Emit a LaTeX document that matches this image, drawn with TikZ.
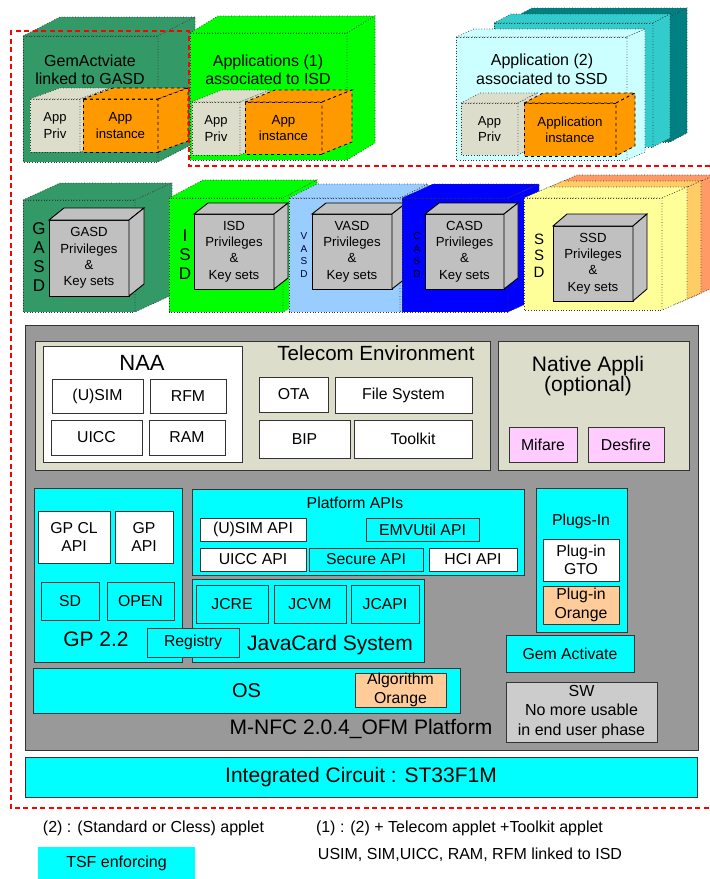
\documentclass[tikz,border=0pt]{standalone}
\usepackage{fontspec}
\setmainfont{Liberation Sans}
\definecolor{gasdgreen}{HTML}{339966}
\definecolor{brgreen}{HTML}{00FF00}
\definecolor{beige}{HTML}{DDDDCC}
\definecolor{apporange}{HTML}{FF9900}
\definecolor{lcyan}{HTML}{CCFFFF}
\definecolor{mteal}{HTML}{33CCCC}
\definecolor{dteal}{HTML}{008080}
\definecolor{lblue}{HTML}{99CCFF}
\definecolor{dblue}{HTML}{0000FF}
\definecolor{lyellow}{HTML}{FFFF99}
\definecolor{lorange}{HTML}{FFCC66}
\definecolor{dorange}{HTML}{FF9966}
\definecolor{cubegray}{HTML}{C0C0C0}
\definecolor{platgray}{HTML}{999999}
\definecolor{tcyan}{HTML}{00FFFF}
\definecolor{pinkish}{HTML}{FFCCFF}
\definecolor{peach}{HTML}{FFCC99}
\definecolor{swgray}{HTML}{CCCCCC}
\definecolor{edgec}{HTML}{333333}
\newcommand{\fs}[2]{\fontsize{#1}{#2}\selectfont}
% name, x1,y1,x2,y2 (front face), dx,dy (depth), style, text
\newcommand{\cubeat}[9]{%
  \filldraw[#8] (#2,#3) rectangle (#4,#5);
  \filldraw[#8] (#2,#3) -- ++(#6,#7) -- ++({#4-#2},0) -- (#4,#3) -- cycle;
  \filldraw[#8] (#4,#3) -- ++(#6,#7) -- ++(0,{#5-#3}) -- (#4,#5) -- cycle;
  \node[cubetext] (#1) at ({(#2+#4)/2},{(#3+#5)/2}) {#9};
}
% name, x1,y1,x2,y2, style, text
\newcommand{\bx}[7]{%
  \node[box, #6, minimum width={#4-#2}, minimum height={#5-#3}] (#1) at ({(#2+#4)/2},{(#3+#5)/2}) {#7};
}
\tikzset{
  outerbox/.style={draw=edgec, dotted, line width=0.7pt},
  solidcube/.style={draw=black, line width=0.9pt, fill=cubegray},
  cubetext/.style={font=\fs{13.2}{16.3}, align=center, inner sep=0pt},
  box/.style={draw=edgec, line width=0.9pt, inner sep=0pt, align=center, font=\fs{15.8}{18.5}},
  lbl/.style={align=center, inner sep=0pt, font=\fs{15.8}{18.5}},
  big/.style={font=\fs{21}{24}},
  letters/.style={align=center, inner sep=0pt, font=\fs{17}{19}},
  smallletters/.style={align=center, inner sep=0pt, font=\fs{10}{12.7}},
}
\begin{document}
\begin{tikzpicture}[x=1pt,y=-1pt]
\useasboundingbox (0,0) rectangle (710,879);
\fill[white] (0,0) rectangle (710,879);

% ---------- top row ----------
\cubeat{gemout}{23}{36}{158}{162}{37}{-19}{outerbox, fill=gasdgreen}{}
\cubeat{gempriv}{30}{99}{80}{152}{30}{-11}{outerbox, fill=beige}{\fs{13}{16}App\\Priv}
\cubeat{geminst}{83}{99}{158}{152}{30}{-11}{draw=black, dashed, line width=0.8pt, fill=apporange}{\fs{13.3}{16}App\\instance}
\node[lbl, font=\fs{16}{18}] (gemlbl) at (90,70) {GemActviate\\linked to GASD};

\cubeat{app1out}{190}{33}{347}{160}{28}{-17}{outerbox, fill=brgreen}{}
\cubeat{app1priv}{192}{102}{240}{155}{30}{-12}{outerbox, fill=beige}{\fs{13}{16}App\\Priv}
\cubeat{app1inst}{245}{102}{322}{154}{30}{-12}{draw=black, dashed, line width=0.8pt, fill=apporange}{\fs{13.3}{16}App\\instance}
\node[lbl, font=\fs{16}{18}] (app1lbl) at (268,70) {Applications (1)\\associated to ISD};

\cubeat{app2c}{515}{17}{670}{142}{17}{-9}{outerbox, fill=dteal}{}
\cubeat{app2b}{494}{23}{653}{147}{17}{-9}{outerbox, fill=mteal}{}
\cubeat{app2out}{456}{37}{627}{160}{18}{-8}{outerbox, fill=lcyan}{}
\cubeat{app2priv}{461}{103}{518}{155}{19}{-10}{outerbox, fill=beige}{\fs{13}{16}App\\Priv}
\cubeat{app2inst}{524}{103}{616}{156}{19}{-10}{draw=black, dashed, line width=0.8pt, fill=apporange}{\fs{13.3}{15.5}Application\\instance}
\node[lbl, font=\fs{16}{19}] (app2lbl) at (542,69.5) {Application (2)\\associated to SSD};

% ---------- middle row ----------
\cubeat{gasdout}{23}{200}{135}{312}{37}{-17}{outerbox, fill=gasdgreen}{}
\node[letters] (gasdl) at (39,257.5) {G\\A\\S\\D};
\cubeat{gasdcube}{49}{220}{129}{296}{15}{-12}{solidcube}{GASD\\Privileges\\\&\\Key sets}

\cubeat{isdout}{169}{198}{283}{312}{34}{-18}{outerbox, fill=brgreen}{}
\node[letters] (isdl) at (185,255) {I\\S\\D};
\cubeat{isdcube}{194}{214}{274}{289}{14}{-11}{solidcube}{ISD\\Privileges\\\&\\Key sets}

\cubeat{vasdout}{289}{198}{400}{312}{28}{-14}{outerbox, fill=lblue}{}
\node[smallletters, text=black!80!blue] (vasdl) at (304,255) {V\\A\\S\\D};
\cubeat{vasdcube}{312}{214}{392}{289}{14}{-11}{solidcube}{VASD\\Privileges\\\&\\Key sets}

\cubeat{casdout}{402}{198}{508}{312}{31}{-14}{outerbox, fill=dblue}{}
\node[smallletters] (casdl) at (417,255) {C\\A\\S\\D};
\cubeat{casdcube}{425}{214}{504}{289}{14}{-11}{solidcube}{CASD\\Privileges\\\&\\Key sets}

\cubeat{ssdc}{552}{186}{690}{298}{25}{-11}{outerbox, fill=dorange}{}
\cubeat{ssdb}{538}{192}{676}{304}{25}{-11}{outerbox, fill=lorange}{}
\cubeat{ssdout}{524}{198}{662}{310}{25}{-11}{outerbox, fill=lyellow}{}
\node[letters, font=\fs{15}{16.5}] (ssdl) at (539,255.5) {S\\S\\D};
\cubeat{ssdcube}{553}{226}{633}{301}{14}{-12}{solidcube}{SSD\\Privileges\\\&\\Key sets}

% ---------- platform ----------
\bx{plat}{25}{325}{698}{750}{fill=platgray}{}

\bx{telenv}{35}{341}{490}{470}{fill=beige}{}
\node[lbl, font=\fs{20.5}{24}] (telenvl) at (376,353) {Telecom Environment};
\bx{naa}{43}{346}{242}{462}{fill=white}{}
\node[lbl, font=\fs{22}{24}] (naal) at (142,363) {NAA};
\bx{usim}{52}{379}{143}{413}{fill=white}{(U)SIM}
\bx{rfm}{150}{379}{226}{413}{fill=white}{RFM}
\bx{uicc}{51}{420}{142}{455}{fill=white}{UICC}
\bx{ram}{149}{420}{225}{455}{fill=white}{RAM}
\bx{ota}{259}{377}{328}{412}{fill=white}{OTA}
\bx{fsys}{335}{377}{472}{413}{fill=white}{File System}
\bx{bip}{259}{420}{350}{458}{fill=white}{BIP}
\bx{toolkit}{354}{420}{472}{458}{fill=white}{Toolkit}

\bx{native}{498}{341}{689}{470}{fill=beige}{}
\node[lbl, font=\fs{21}{20}] (nativel) at (588,376.5) {Native Appli\\(optional)};
\bx{mifare}{509}{427}{577}{462}{fill=pinkish}{Mifare}
\bx{desfire}{588}{427}{664}{462}{fill=pinkish}{Desfire}

\bx{gp}{34}{488}{182}{662}{fill=tcyan}{}
\node[lbl, big] (gpl) at (96,639) {GP 2.2};
\bx{gpcl}{38}{511}{110}{563}{fill=white}{GP CL\\API}
\bx{gpapi}{115}{511}{173}{563}{fill=white}{GP\\API}
\bx{sd}{41}{582}{99}{620}{fill=tcyan}{SD}
\bx{open}{107}{582}{174}{620}{fill=tcyan}{OPEN}

\bx{papi}{192}{489}{524}{575}{fill=tcyan}{}
\node[lbl] (papil) at (355,503) {Platform APIs};
\bx{usimapi}{200}{518}{306}{541}{fill=white}{(U)SIM API}
\bx{emv}{366}{518}{479}{541}{fill=tcyan}{EMVUtil API}
\bx{uiccapi}{200}{548}{306}{571}{fill=white}{UICC API}
\bx{secapi}{309}{548}{423}{571}{fill=tcyan}{Secure API}
\bx{hciapi}{429}{548}{517}{571}{fill=white}{HCI API}

\bx{jcs}{192}{579}{424}{662}{fill=tcyan}{}
\node[lbl, big] (jcsl) at (330,645) {JavaCard System};
\bx{jcre}{196}{585}{268}{623}{fill=tcyan}{JCRE}
\bx{jcvm}{274}{585}{346}{623}{fill=tcyan}{JCVM}
\bx{jcapi}{351}{585}{419}{623}{fill=tcyan}{JCAPI}
\bx{registry}{147}{628}{239}{657}{fill=tcyan}{Registry}

\bx{plugs}{536}{488}{627}{632}{fill=tcyan}{}
\node[lbl] (plugsl) at (581,521) {Plugs-In};
\bx{pgto}{543}{539}{619}{581}{fill=white}{Plug-in\\GTO}
\bx{porange}{543}{586}{619}{624}{fill=peach}{Plug-in\\Orange}
\bx{gemact}{506}{635}{634}{672}{fill=tcyan}{Gem Activate}

\bx{os}{33}{668}{460}{713}{fill=tcyan, font=\fs{20}{24}}{OS}
\bx{algo}{355}{673}{446}{707}{fill=peach}{Algorithm\\Orange}
\bx{sw}{506}{682}{657}{742}{fill=swgray, font=\fs{16}{19.5}}{SW\\No more usable\\in end user phase}
\node[lbl, big] (platl) at (361,729) {M-NFC 2.0.4\_OFM Platform};

\bx{ic}{25}{757}{697}{797}{fill=tcyan, big}{Integrated Circuit : ST33F1M}

% ---------- TSF border ----------
\draw[red, line width=2.6pt, dash pattern=on 5pt off 3.5pt]
  (710,166) -- (189,166) -- (189,31) -- (11,31) -- (11,808) -- (710,808);

% ---------- notes ----------
\node[lbl, font=\fs{16}{19}] (note2) at (153.5,828) {(2) : (Standard or Cless) applet};
\node[lbl, font=\fs{16}{19}] (note1) at (459.5,828) {(1) : (2) + Telecom applet +Toolkit applet};
\node[lbl, font=\fs{16}{19}] (note3) at (470,855) {USIM, SIM,UICC, RAM, RFM linked to ISD};
\bx{tsf}{38}{847}{195}{880}{draw=none, fill=tcyan, font=\fs{16}{19}}{TSF enforcing}
\end{tikzpicture}
\end{document}
